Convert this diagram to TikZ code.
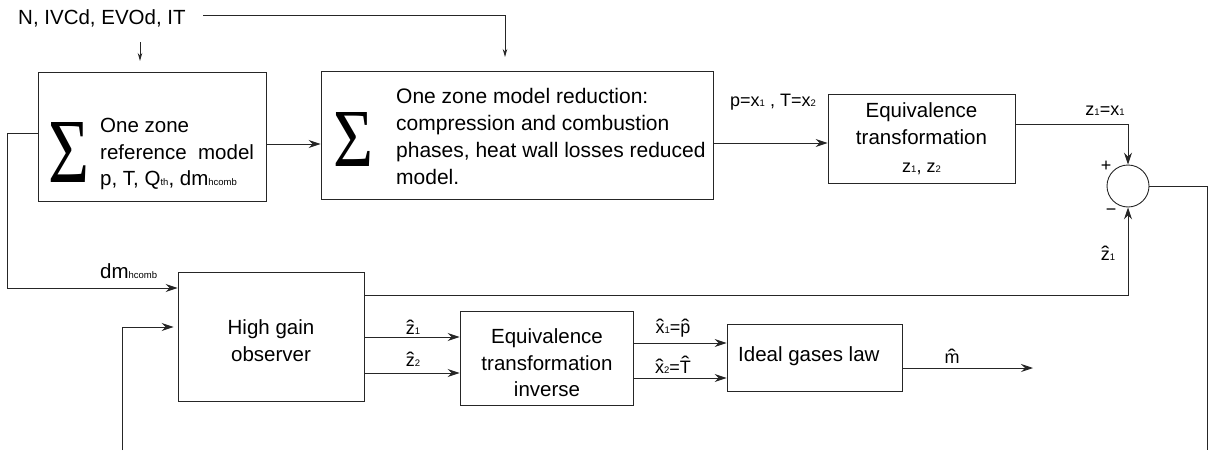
\documentclass[tikz,border=0pt]{standalone}
\usepackage{fontspec}
\setmainfont{Liberation Sans}
\newfontfamily\sigfont{Liberation Serif}
\usepackage{graphicx}
\usetikzlibrary{arrows.meta}
\newcommand\sbs[1]{{\fontsize{9.5}{10}\selectfont #1}}
\newcommand\hatt[1]{\leavevmode\setbox0\hbox{#1}\rlap{\hbox to\wd0{\hss\raisebox{\dimexpr\ht0-0.52em\relax}{\scalebox{1.35}[1.1]{\char"02C6}}\hss}}\box0}
\newcommand\bigsig[2]{\resizebox{#1}{#2}{\sigfont Σ}}
\begin{document}
\begin{tikzpicture}[x=1pt,y=-1pt,
  blk/.style={draw=black!85,line width=0.9pt,rectangle,inner sep=0pt},
  txt/.style={inner sep=0pt,font=\fontsize{20.5}{26.5}\selectfont},
  lbl/.style={inner sep=0pt,font=\fontsize{18}{21}\selectfont},
  con/.style={draw=black!85,line width=0.9pt},
  arr/.style={con,-{Stealth[length=12pt,width=8pt,inset=4pt]}},
  sarr/.style={con,-{Stealth[length=8pt,width=4.5pt]}}]
\useasboundingbox (0,0) rectangle (1209,450);

% blocks
\node[blk,minimum width=228pt,minimum height=129pt] (b1) at (152,136.5) {};
\node[inner sep=0pt] (s1) at (68.5,152) {\bigsig{41pt}{60pt}};
\node[txt,align=left,anchor=west] (t1) at (100,154) {One zone\\reference\ \ model\\p, T, Q\sbs{th}, dm\sbs{hcomb}};

\node[blk,minimum width=392pt,minimum height=128pt] (b2) at (517,135) {};
\node[inner sep=0pt] (s2) at (353,139) {\bigsig{40pt}{54pt}};
\node[txt,align=left,anchor=west,font=\fontsize{21}{27}\selectfont] (t2) at (396,136) {One zone model reduction:\\compression and combustion\\phases, heat wall losses reduced\\model.};

\node[blk,minimum width=187pt,minimum height=89pt] (b3) at (921.5,138.5) {};
\node[txt,align=center] (t3) at (921.5,139) {Equivalence\\transformation\\[2pt]{\fontsize{18}{20}\selectfont z\sbs{1}, z\sbs{2}}};

\node[circle,draw=black!85,line width=0.9pt,minimum size=42pt,inner sep=0pt] (sum) at (1128,186) {};

\node[blk,minimum width=186pt,minimum height=129pt] (obs) at (271,336.5) {};
\node[txt,align=center] (t4) at (271,340.5) {High gain\\observer};

\node[blk,minimum width=173pt,minimum height=94pt] (b4) at (546.5,358) {};
\node[txt,align=center] (t5) at (547,363) {Equivalence\\transformation\\inverse};

\node[blk,minimum width=175pt,minimum height=67pt] (b5) at (814.5,357.5) {};
\node[txt,anchor=west] (t6) at (738,356) {Ideal gases law};

% labels
\node[txt,anchor=west] (inp) at (18,18) {N, IVCd, EVOd, IT};
\node[lbl] (lpx) at (773,102) {p=x\sbs{1} , T=x\sbs{2}};
\node[lbl] (lz1) at (1105,111) {z\sbs{1}=x\sbs{1}};
\node[lbl] (plus) at (1106,166) {+};
\node[lbl] (minus) at (1111,212) {\char"2212};
\node[lbl] (lz1h) at (1108,253) {\hatt{z}\sbs{1}};
\node[txt,anchor=west] (ldm) at (100,271) {dm\sbs{hcomb}};
\node[lbl] (lzh1) at (413,327) {\hatt{z}\sbs{1}};
\node[lbl] (lzh2) at (413,359) {\hatt{z}\sbs{2}};
\node[lbl] (lxh1) at (673,328) {\hatt{x}\sbs{1}=\hatt{p}};
\node[lbl] (lxh2) at (673,365) {\hatt{x}\sbs{2}=\hatt{T}};
\node[lbl] (lm) at (952,356) {\hatt{m}};

% connectors
\coordinate (c1) at (203,15);
\coordinate (c2) at (505,57);
\draw[sarr] (c1) -| (c2);
\coordinate (c3) at (140,42);
\coordinate (c4) at (140,61);
\draw[sarr] (c3) -- (c4);
\draw[arr] (b1.east |- 0,144) -- (b2.west |- 0,144);
\draw[arr] (b2.east |- 0,143) -- (b3.west |- 0,143);
\draw[arr] (b3.east |- 0,124) -| (sum.north);
\draw[arr] (b1.west |- 0,133) -| (7,288) -- (obs.west |- 0,288);
\coordinate (c6) at (122,450);
\draw[arr] (c6) |- ([xshift=-4pt]obs.west |- 0,327);
\draw[arr] (obs.east |- 0,295) -| (sum.south);
\draw[arr] (obs.east |- 0,337) -- (b4.west |- 0,337);
\draw[arr] (obs.east |- 0,373) -- (b4.west |- 0,373);
\draw[arr] (b4.east |- 0,343) -- (b5.west |- 0,343);
\draw[arr] (b4.east |- 0,378) -- (b5.west |- 0,378);
\coordinate (c7) at (1033,368);
\draw[arr] (b5.east |- 0,368) -- (c7);
\coordinate (c8) at (1207,450);
\draw[con] (sum.east) -| (c8);
\end{tikzpicture}
\end{document}
